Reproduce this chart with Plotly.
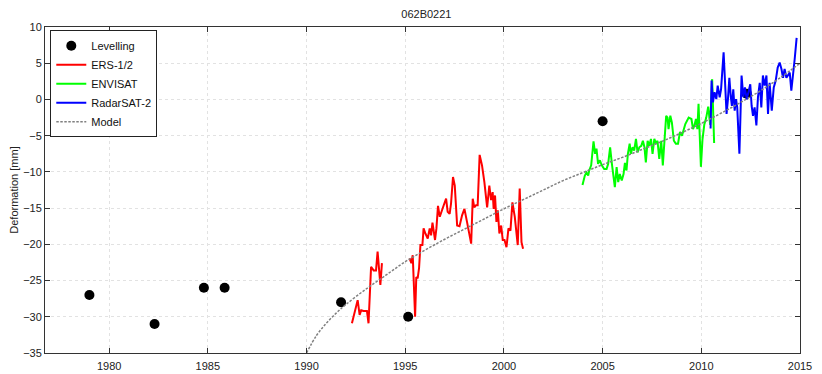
import plotly.graph_objects as go

# Levelling campaigns
lev_year = [1979.0, 1982.3, 1984.8, 1985.85, 1991.75, 1995.15, 2005.0, 2012.3]
lev_val = [-27, -31, -26, -26, -28, -30, -3, 0.8]

# ERS-1/2 (two segments, gap in 1994)
ers_year = [1992.30, 1992.59, 1992.69, 1992.77, 1992.89, 1993.06, 1993.14, 1993.27, 1993.40, 1993.52,
            1993.60, 1993.69, 1993.74, 1993.82, None,
            1995.22, 1995.31, 1995.38, 1995.50, 1995.56, 1995.63, 1995.70, 1995.77, 1995.87, 1995.93,
            1996.02, 1996.14, 1996.24, 1996.31, 1996.38, 1996.44, 1996.51, 1996.58, 1996.66, 1996.75,
            1996.85, 1996.95, 1997.07, 1997.15, 1997.25, 1997.32, 1997.42, 1997.51, 1997.63, 1997.75,
            1997.88, 1998.00, 1998.13, 1998.22, 1998.34, 1998.42, 1998.50, 1998.59, 1998.67, 1998.77,
            1998.89, 1999.01, 1999.15, 1999.26, 1999.35, 1999.43, 1999.48, 1999.55, 1999.62, 1999.69,
            1999.77, 1999.86, 1999.94, 2000.03, 2000.13, 2000.23, 2000.33, 2000.43, 2000.55, 2000.70,
            2000.80, 2000.89, 2000.97]
ers_val = [-30.9, -27.7, -29.75, -29.1, -29.2, -29.2, -30.9, -23.1, -23.6, -23.6,
           -21.0, -23.6, -25.6, -22.6, None,
           -21.95, -22.6, -21.5, -30.0, -24.5, -24.7, -23.3, -20.1, -20.1, -17.8,
           -18.5, -19.2, -17.8, -18.75, -17.0, -18.2, -19.4, -17.8, -14.7, -16.2,
           -15.3, -14.6, -13.7, -15.5, -15.8, -14.4, -10.7, -11.9, -17.4, -17.5,
           -16.0, -15.1, -16.9, -18.3, -19.9, -13.7, -14.9, -14.6, -14.6, -7.65,
           -9.1, -11.4, -14.9, -11.9, -13.9, -12.8, -15.1, -13.25, -16.9, -15.3,
           -18.5, -17.4, -19.4, -19.4, -20.4, -17.8, -18.1, -14.2, -16.2, -20.1,
           -12.3, -19.7, -20.6]

# ENVISAT
env_year = [2003.98, 2004.10, 2004.18, 2004.27, 2004.32, 2004.42, 2004.54, 2004.62, 2004.69, 2004.77,
            2004.86, 2004.96, 2005.08, 2005.20, 2005.28, 2005.38, 2005.47, 2005.54, 2005.62, 2005.71,
            2005.79, 2005.87, 2005.97, 2006.06, 2006.13, 2006.21, 2006.28, 2006.37, 2006.43, 2006.52,
            2006.60, 2006.69, 2006.77, 2006.86, 2006.96, 2007.04, 2007.12, 2007.19, 2007.28, 2007.36,
            2007.45, 2007.53, 2007.62, 2007.70, 2007.78, 2007.87, 2007.97, 2008.05, 2008.14, 2008.22,
            2008.29, 2008.34, 2008.43, 2008.51, 2008.61, 2008.71, 2008.82, 2008.92, 2009.02, 2009.19,
            2009.36, 2009.50, 2009.58, 2009.65, 2009.73, 2009.80, 2009.86, 2009.98, 2010.06, 2010.15,
            2010.25, 2010.35, 2010.45, 2010.55, 2010.65]
env_val = [-11.8, -10.5, -10.1, -10.5, -9.8, -9.1, -5.8, -7.5, -6.8, -8.9,
           -8.4, -9.1, -9.6, -9.6, -8.9, -6.6, -8.9, -10.9, -12.1, -9.35,
           -11.4, -10.3, -11.2, -10.3, -8.75, -9.8, -7.5, -6.1, -7.5, -6.6,
           -7.05, -5.45, -7.3, -6.6, -6.4, -5.7, -6.6, -8.7, -5.7, -6.4,
           -5.45, -7.5, -5.45, -6.1, -5.7, -8.2, -5.7, -9.1, -4.5, -2.25,
           -2.5, -4.1, -2.25, -3.2, -5.7, -6.1, -6.1, -4.5, -5.0, -3.4,
           -2.5, -2.7, -4.1, -3.6, -2.7, -4.1, -0.6, -9.3, -5.5, -3.5,
           -2.5, -1.0, -3.5, 2.8, -6.0]

# RadarSAT-2
rs2_year = [2010.47, 2010.52, 2010.59, 2010.67, 2010.76, 2010.83, 2010.93, 2011.00, 2011.13, 2011.21,
            2011.28, 2011.35, 2011.42, 2011.49, 2011.55, 2011.62, 2011.69, 2011.76, 2011.82, 2011.93,
            2011.99, 2012.04, 2012.13, 2012.21, 2012.30, 2012.38, 2012.48, 2012.55, 2012.62, 2012.70,
            2012.79, 2012.87, 2012.96, 2013.04, 2013.12, 2013.21, 2013.30, 2013.38, 2013.46, 2013.57,
            2013.67, 2013.77, 2013.87, 2013.97, 2014.06, 2014.14, 2014.22, 2014.31, 2014.39, 2014.48,
            2014.56, 2014.65, 2014.73, 2014.83]
rs2_val = [-4.0, 2.6, -0.4, 1.0, 0.05, 1.9, 0.3, 1.4, 6.5, 1.0,
           -2.0, 0.05, 3.0, 0.5, -0.9, 1.4, -1.55, 0.05, -1.1, -7.5,
           -2.25, 3.3, 0.3, 1.65, 0.0, 1.0, 2.1, -0.9, -2.25, -1.1,
           -3.6, 0.3, 2.3, -1.1, 3.3, 1.9, 3.3, -2.0, 2.3, -1.55,
           1.65, 2.6, 4.4, 5.1, 4.2, 3.0, 4.2, 3.0, 3.3, 3.7,
           1.2, 3.3, 5.55, 8.5]

# Model curve
model_year = [1990.0, 1990.5, 1991.0, 1991.5, 1992, 1993, 1994, 1995, 1996, 1997, 1998, 1999, 2000,
              2001, 2002, 2003, 2004, 2005, 2006, 2007, 2008, 2009, 2010, 2011, 2012, 2013, 2014, 2015]
model_val = [-35.0, -32.6, -30.9, -29.5, -28.3, -26.2, -24.3, -22.4, -20.8, -19.3, -17.9, -16.5, -15.1,
             -13.8, -12.5, -11.2, -10.1, -9.0, -8.0, -6.9, -5.8, -4.6, -3.3, -1.9, -0.4, 1.2, 3.0, 5.0]

x_ticks = [1980, 1985, 1990, 1995, 2000, 2005, 2010, 2015]
y_ticks = [-35, -30, -25, -20, -15, -10, -5, 0, 5, 10]

for a, b in [(ers_year, ers_val), (env_year, env_val), (rs2_year, rs2_val),
             (model_year, model_val), (lev_year, lev_val)]:
    assert len(a) == len(b)

font = "Liberation Sans, Arial, sans-serif"

fig = go.Figure()
fig.add_trace(go.Scatter(x=lev_year, y=lev_val, mode="markers", name="Levelling",
                         marker=dict(color="black", size=10)))
fig.add_trace(go.Scatter(x=ers_year, y=ers_val, mode="lines", name="ERS-1/2",
                         line=dict(color="#ff0000", width=2), connectgaps=False))
fig.add_trace(go.Scatter(x=env_year, y=env_val, mode="lines", name="ENVISAT",
                         line=dict(color="#00ff00", width=2)))
fig.add_trace(go.Scatter(x=rs2_year, y=rs2_val, mode="lines", name="RadarSAT-2",
                         line=dict(color="#0000ff", width=2)))
fig.add_trace(go.Scatter(x=model_year, y=model_val, mode="lines", name="Model",
                         line=dict(color="#808080", width=1.5, dash="2.5px,1.5px", shape="spline")))

axis_common = dict(
    showline=True, linecolor="#333", linewidth=1, mirror="allticks",
    ticks="inside", ticklen=5, tickcolor="#333", automargin=False,
    showgrid=True, gridcolor="#e2e2e2", griddash="dot", gridwidth=1,
    zeroline=False, tickfont=dict(size=11, color="#222", family=font),
)

fig.update_xaxes(range=[1976.75, 2015], tickvals=x_ticks, ticklabelstandoff=3, **axis_common)
fig.update_yaxes(range=[-35, 10], tickvals=y_ticks,
                 title=dict(text="Deformation [mm]", font=dict(size=11, color="#222", family=font),
                            standoff=3),
                 **axis_common)

# page body keeps its default 8px margin, so the figure is offset by 8px
fig.update_layout(
    width=814, height=366,
    margin=dict(l=37, r=22, t=19, b=21),
    paper_bgcolor="white", plot_bgcolor="white",
    title=dict(text="062B0221", x=0.514, xanchor="center", y=0.995, yanchor="top",
               font=dict(size=11, color="#222", family=font)),
    font=dict(family=font, size=11, color="#222"),
    legend=dict(x=0.007, y=0.99, xanchor="left", yanchor="top",
                bgcolor="white", bordercolor="#222", borderwidth=1,
                traceorder="normal", itemwidth=30, tracegroupgap=0,
                font=dict(size=11, color="#111", family=font)),
)

fig.write_html("out.html")
